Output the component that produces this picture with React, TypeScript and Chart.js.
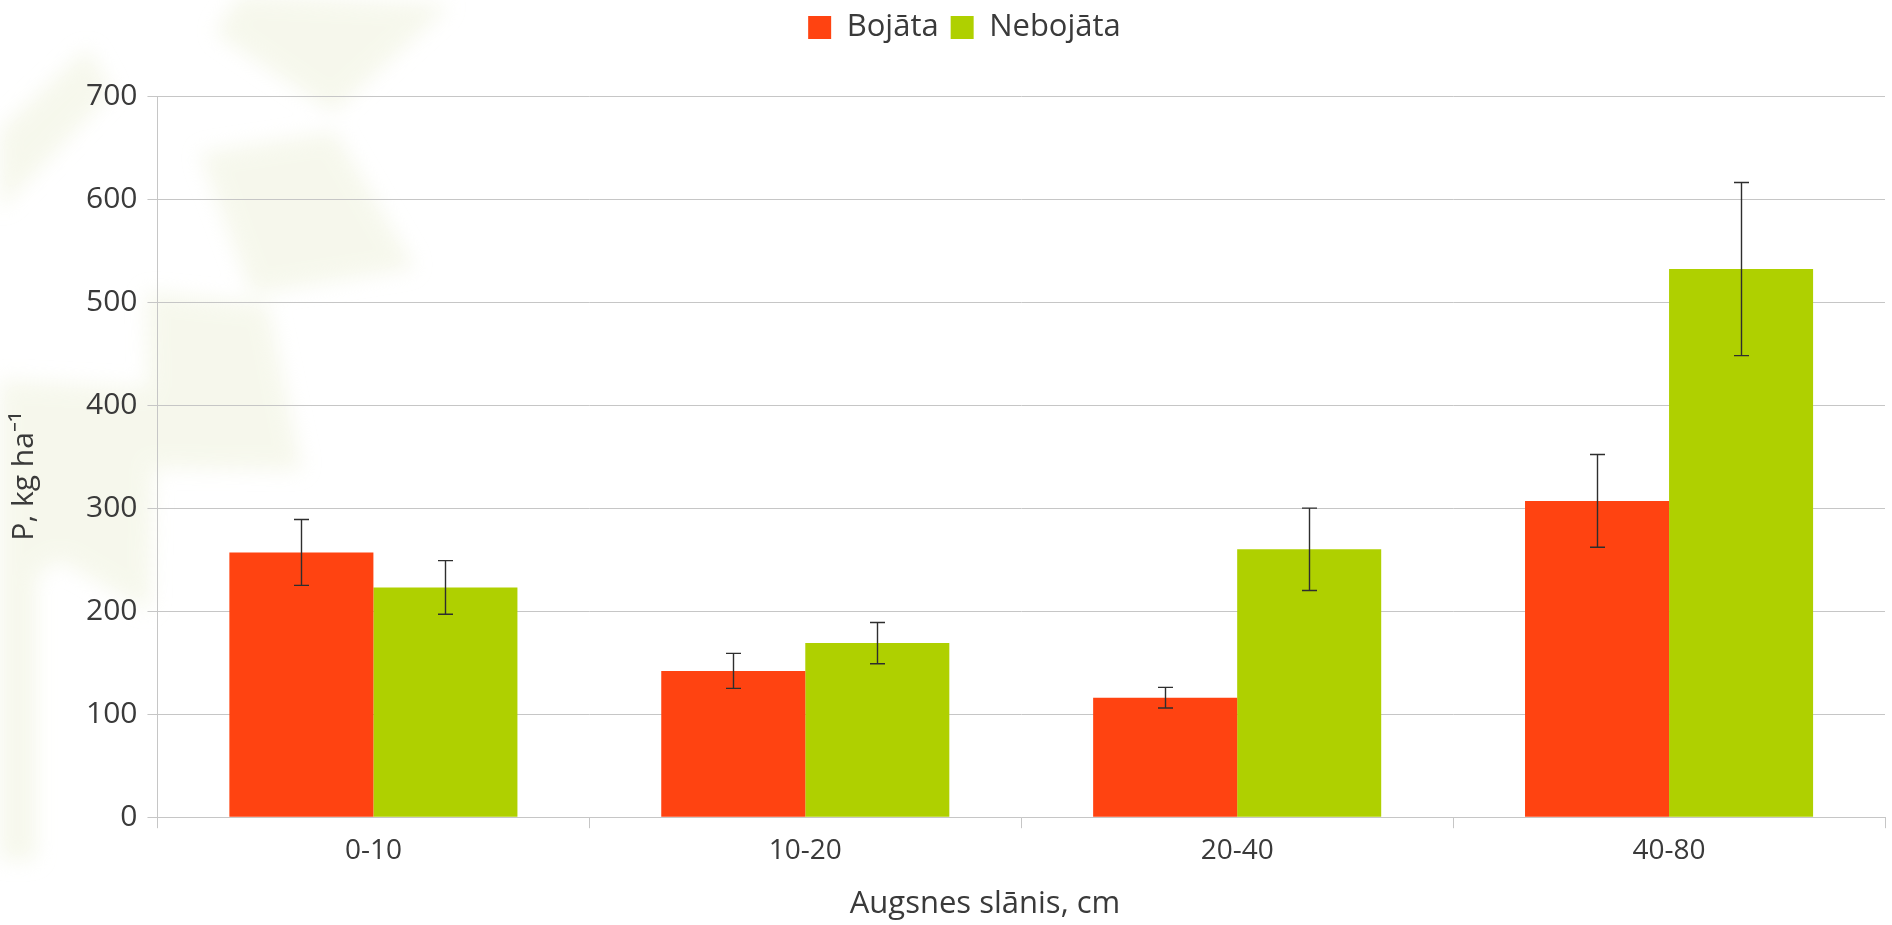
import React, { useEffect, useRef } from "react";
import { Chart, registerables } from "chart.js";

Chart.register(...registerables);

// Soil layers (cm) and phosphorus stock, kg/ha
const layers = ["0-10", "10-20", "20-40", "40-80"];
const damagedValues = [257, 142, 116, 307];
const damagedErrors = [32, 17, 10, 45];
const intactValues = [223, 169, 260, 532];
const intactErrors = [26, 20, 40, 84];
const seriesNames = ["Bojāta", "Nebojāta"];
const yMax = 700;
const yStep = 100;

const RED = "#ff4311";
const GREEN = "#afd000";
const TEXT = "#3a3a3a";
const GRID = "#c6c6c6";
const FONT = "'Open Sans', 'Noto Sans', sans-serif";
const NBSP = "\u00a0";

// Whisker (± error) drawn on top of every bar
const errorBars = {
  id: "errorBars",
  afterDatasetsDraw(chart: any) {
    const { ctx } = chart;
    const yScale = chart.scales.y;
    chart.data.datasets.forEach((ds: any, di: number) => {
      const meta = chart.getDatasetMeta(di);
      meta.data.forEach((bar: any, i: number) => {
        const v = ds.data[i];
        const e = ds.errors[i];
        const top = yScale.getPixelForValue(v + e);
        const bottom = yScale.getPixelForValue(v - e);
        const x = Math.round(bar.x) + 0.5;
        ctx.save();
        ctx.strokeStyle = "#2e2e2e";
        ctx.lineWidth = 1.4;
        ctx.beginPath();
        ctx.moveTo(x, top);
        ctx.lineTo(x, bottom);
        ctx.moveTo(x - 7.5, top);
        ctx.lineTo(x + 7.5, top);
        ctx.moveTo(x - 7.5, bottom);
        ctx.lineTo(x + 7.5, bottom);
        ctx.stroke();
        ctx.restore();
      });
    });
  },
};

// Extra room under the legend, and the legend nudged slightly right
const legendPlacement = {
  id: "legendPlacement",
  beforeInit(chart: any) {
    const fit = chart.legend.fit;
    chart.legend.fit = function () {
      fit.call(this);
      this.height += 43;
    };
  },
  afterLayout(chart: any) {
    chart.legend.left += 19;
    chart.legend.right += 19;
  },
};

// Faint leaf-like shapes behind the chart
function Watermark() {
  return (
    <svg
      width={1892}
      height={925}
      style={{ position: "absolute", left: 0, top: 0 }}
    >
      <defs>
        <filter id="soft" x="-30%" y="-30%" width="160%" height="160%">
          <feGaussianBlur stdDeviation="10" />
        </filter>
      </defs>
      <g filter="url(#soft)" fill="#eef1da" opacity={0.5}>
        <polygon points="240,-5 450,5 333,112 215,33" />
        <polygon points="200,153 335,132 415,268 252,294" />
        <polygon points="146,292 268,305 302,470 150,468" />
        <polygon points="88,48 112,92 0,210 0,130" />
        <polygon points="0,380 155,388 150,612 60,560 0,600" />
        <polygon points="0,560 36,560 36,860 0,860" />
      </g>
    </svg>
  );
}

export default function App() {
  const canvasRef = useRef<HTMLCanvasElement | null>(null);

  useEffect(() => {
    document.body.style.margin = "0";
    const canvas = canvasRef.current;
    if (!canvas) return;
    const chart = new Chart(canvas, {
      type: "bar",
      data: {
        labels: layers,
        datasets: [
          {
            label: seriesNames[0],
            data: damagedValues,
            errors: damagedErrors,
            backgroundColor: RED,
            borderWidth: 0,
          } as any,
          {
            label: seriesNames[1],
            data: intactValues,
            errors: intactErrors,
            backgroundColor: GREEN,
            borderWidth: 0,
          } as any,
        ],
      },
      options: {
        responsive: false,
        animation: false,
        devicePixelRatio: 1,
        layout: { padding: { left: 6, right: 7, top: 0, bottom: 2 } },
        datasets: {
          bar: { categoryPercentage: 0.667, barPercentage: 1 },
        },
        plugins: {
          tooltip: { enabled: false },
          legend: {
            position: "top",
            labels: {
              boxWidth: 23,
              boxHeight: 23,
              padding: 12,
              color: TEXT,
              font: { family: FONT, size: 31 },
            },
          },
        },
        scales: {
          x: {
            grid: {
              drawOnChartArea: false,
              drawTicks: true,
              tickLength: 11,
              color: GRID,
              offset: true,
            },
            border: { color: GRID },
            ticks: {
              color: TEXT,
              font: { family: FONT, size: 28 },
              padding: 6,
            },
            title: {
              display: true,
              text: "Augsnes slānis, cm" + NBSP.repeat(9),
              color: TEXT,
              font: { family: FONT, size: 31 },
              padding: { top: 12, bottom: 0 },
            },
          },
          y: {
            min: 0,
            max: yMax,
            grid: { color: GRID, tickLength: 10 },
            border: { color: GRID },
            ticks: {
              stepSize: yStep,
              color: TEXT,
              font: { family: FONT, size: 30 },
              padding: 10,
            },
            title: {
              display: true,
              text: "P, kg ha⁻¹" + NBSP.repeat(5),
              color: TEXT,
              font: { family: FONT, size: 30 },
              padding: { top: 0, bottom: 34 },
            },
          },
        },
      },
      plugins: [errorBars, legendPlacement],
    } as any);
    return () => chart.destroy();
  }, []);

  return (
    <div
      style={{
        position: "relative",
        width: 1892,
        height: 925,
        background: "#ffffff",
        overflow: "hidden",
      }}
    >
      <Watermark />
      <canvas
        ref={canvasRef}
        width={1892}
        height={925}
        style={{ position: "absolute", left: 0, top: 0 }}
      />
    </div>
  );
}
